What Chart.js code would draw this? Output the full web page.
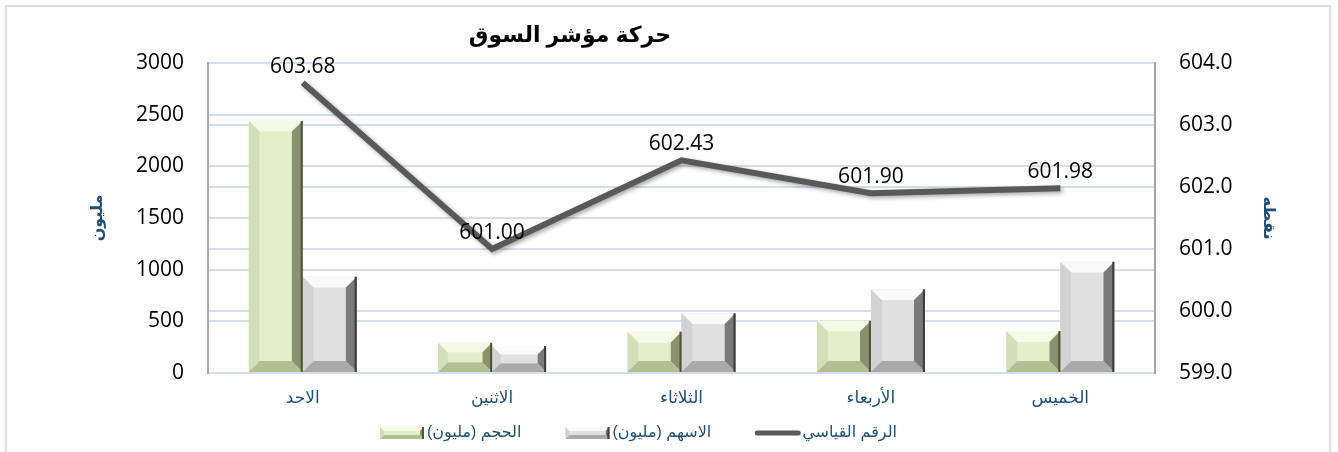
<!DOCTYPE html>
<html>
<head>
<meta charset="utf-8">
<script src="https://cdn.jsdelivr.net/npm/chart.js@4.4.1/dist/chart.umd.min.js"></script>
<style>
    html, body { margin: 0; padding: 0; background: #ffffff; }
    #wrap { position: relative; width: 1338px; height: 452px; }
    #frame { position: absolute; left: 5px; top: 5px; width: 1326px; height: 460px;
             border: 2px solid #d3def0; box-sizing: border-box; pointer-events: none; }
</style>
</head>
<body>
<div id="wrap">
    <canvas id="marketChart" width="1338" height="452"></canvas>
    <div id="frame"></div>
</div>
<script>
var days = ["الاحد", "الاثنين", "الثلاثاء", "الأربعاء", "الخميس"];
var volumeValues = [2440, 293, 400, 506, 406];
var sharesValues = [932, 261, 578, 810, 1077];
var indexValues = [603.68, 601.00, 602.43, 601.90, 601.98];
var leftTicks = [0, 500, 1000, 1500, 2000, 2500, 3000];
var rightTicks = [599, 600, 601, 602, 603, 604];

var chartTitle = "حركة مؤشر السوق";
var volumeLabel = "الحجم (مليون)";
var sharesLabel = "الاسهم (مليون)";
var indexLabel = "الرقم القياسي";

var numFont = "'Open Sans', 'Noto Sans', sans-serif";
var arFont = "'Liberation Sans', 'DejaVu Sans', sans-serif";
var blueText = "#1f4e79";
var gridBlue = "#d3def0";

// bevel look for the bars, painted on top of each bar element
var bevelColors = {
    green: {top: "#f5fae6", left: "#d4dfba", right: "#8a9170", bottom: "#b4be93", face: "#e2efc8", edge: "#4f5438"},
    gray: {top: "#fafafa", left: "#d2d2d2", right: "#7a7a7a", bottom: "#a9a9a9", face: "#e0e0e0", edge: "#3c3c3c"}
};

function drawBevel(ctx, bar, c) {
    var w = bar.width;
    var x0 = bar.x - w / 2, x1 = bar.x + w / 2;
    var y0 = Math.min(bar.y, bar.base), y1 = Math.max(bar.y, bar.base);
    var h = y1 - y0;
    var b = Math.min(11, w / 4, h / 3);
    function poly(pts, col) {
        ctx.beginPath();
        ctx.moveTo(pts[0][0], pts[0][1]);
        for (var i = 1; i < pts.length; i++) ctx.lineTo(pts[i][0], pts[i][1]);
        ctx.closePath();
        ctx.fillStyle = col;
        ctx.fill();
    }
    ctx.save();
    poly([[x0, y0], [x1, y0], [x1 - b, y0 + b], [x0 + b, y0 + b]], c.top);
    poly([[x0, y0], [x0 + b, y0 + b], [x0 + b, y1 - b], [x0, y1]], c.left);
    poly([[x1, y0], [x1, y1], [x1 - b, y1 - b], [x1 - b, y0 + b]], c.right);
    poly([[x0, y1], [x0 + b, y1 - b], [x1 - b, y1 - b], [x1, y1]], c.bottom);
    poly([[x0 + b, y0 + b], [x1 - b, y0 + b], [x1 - b, y1 - b], [x0 + b, y1 - b]], c.face);
    ctx.fillStyle = c.edge;
    ctx.fillRect(x1 - 2, y0, 2, h);
    ctx.restore();
}

var decorPlugin = {
    id: "decor",
    beforeDatasetDraw: function (chart, args) {
        if (args.meta.type === "line") {
            var ctx = chart.ctx;
            ctx.save();
            ctx.shadowColor = "rgba(0,0,0,0.35)";
            ctx.shadowBlur = 4;
            ctx.shadowOffsetX = 2;
            ctx.shadowOffsetY = 2;
        }
    },
    afterDatasetDraw: function (chart, args) {
        var ctx = chart.ctx;
        if (args.meta.type === "line") {
            ctx.restore();
            return;
        }
        var c = bevelColors[chart.data.datasets[args.index].bevel];
        args.meta.data.forEach(function (bar) {
            drawBevel(ctx, bar, c);
        });
    },
    afterDatasetsDraw: function (chart) {
        var ctx = chart.ctx;
        // value labels for the index line
        var meta = chart.getDatasetMeta(0);
        ctx.save();
        ctx.font = "21px " + numFont;
        ctx.fillStyle = "#000000";
        ctx.textAlign = "center";
        ctx.textBaseline = "middle";
        meta.data.forEach(function (pt, i) {
            ctx.fillText(indexValues[i].toFixed(2), pt.x, pt.y - 16);
        });
        ctx.restore();
    },
    afterDraw: function (chart) {
        var ctx = chart.ctx;
        ctx.save();
        // title
        ctx.font = "bold 22px " + arFont;
        ctx.fillStyle = "#000000";
        ctx.textAlign = "center";
        ctx.textBaseline = "middle";
        ctx.fillText(chartTitle, 570, 36);

        // legend
        ctx.font = "16px " + arFont;
        ctx.textBaseline = "middle";
        ctx.textAlign = "left";
        var ly = 433;
        var x = 380;
        var items = [
            {label: volumeLabel, kind: "green"},
            {label: sharesLabel, kind: "gray"},
            {label: indexLabel, kind: "line"}
        ];
        items.forEach(function (it) {
            if (it.kind === "line") {
                ctx.strokeStyle = "#595959";
                ctx.lineWidth = 5;
                ctx.lineCap = "round";
                ctx.beginPath();
                ctx.moveTo(x + 2, ly);
                ctx.lineTo(x + 43, ly);
                ctx.stroke();
            } else {
                drawBevel(ctx, {x: x + 22, y: ly - 6, base: ly + 6, width: 44}, bevelColors[it.kind]);
            }
            ctx.fillStyle = blueText;
            ctx.fillText(it.label, x + 47, ly);
            x += 47 + ctx.measureText(it.label).width + 44;
        });
        ctx.restore();
    }
};

new Chart(document.getElementById("marketChart").getContext("2d"), {
    type: "bar",
    data: {
        labels: days,
        datasets: [
            {
                type: "line",
                label: indexLabel,
                data: indexValues,
                yAxisID: "yRight",
                borderColor: "#595959",
                borderWidth: 6,
                pointRadius: 0,
                tension: 0,
                order: 0
            },
            {
                label: volumeLabel,
                data: volumeValues,
                yAxisID: "yLeft",
                backgroundColor: "#e2efc8",
                bevel: "green",
                order: 1
            },
            {
                label: sharesLabel,
                data: sharesValues,
                yAxisID: "yLeft",
                backgroundColor: "#e0e0e0",
                bevel: "gray",
                order: 1
            }
        ]
    },
    options: {
        responsive: false,
        animation: false,
        layout: {padding: {top: 63, bottom: 0, left: 0, right: 0}},
        datasets: {
            bar: {categoryPercentage: 0.57, barPercentage: 1.0}
        },
        plugins: {
            legend: {display: false},
            tooltip: {enabled: false}
        },
        scales: {
            x: {
                grid: {display: false, drawTicks: false},
                border: {display: false},
                ticks: {color: blueText, font: {family: arFont, size: 17}, padding: 15},
                afterFit: function (scale) { scale.height = 79; }
            },
            yLeft: {
                position: "left",
                min: 0,
                max: 3000,
                afterBuildTicks: function (scale) {
                    scale.ticks = leftTicks.map(function (v) { return {value: v}; });
                },
                grid: {color: gridBlue, lineWidth: 2, drawTicks: false},
                border: {display: true, color: "#a6a6a6", width: 2},
                ticks: {
                    color: "#000000",
                    font: {family: numFont, size: 21},
                    padding: 24,
                    callback: function (v) { return String(v); }
                },
                title: {
                    display: true,
                    text: "مليون",
                    color: blueText,
                    font: {family: arFont, size: 16, weight: "bold"},
                    padding: {top: 88, bottom: 0}
                },
                afterFit: function (scale) { scale.width = 208; }
            },
            yRight: {
                position: "right",
                min: 599,
                max: 604,
                afterBuildTicks: function (scale) {
                    scale.ticks = rightTicks.map(function (v) { return {value: v}; });
                },
                grid: {color: gridBlue, lineWidth: 2, drawTicks: false},
                border: {display: true, color: "#a6a6a6", width: 2},
                ticks: {
                    color: "#000000",
                    font: {family: numFont, size: 21},
                    padding: 24,
                    callback: function (v) { return Number(v).toFixed(1); }
                },
                title: {
                    display: true,
                    text: "نقطه",
                    color: blueText,
                    font: {family: arFont, size: 16, weight: "bold"},
                    padding: {top: 60, bottom: 0}
                },
                afterFit: function (scale) { scale.width = 183; }
            }
        }
    },
    plugins: [decorPlugin]
});
</script>
</body>
</html>
